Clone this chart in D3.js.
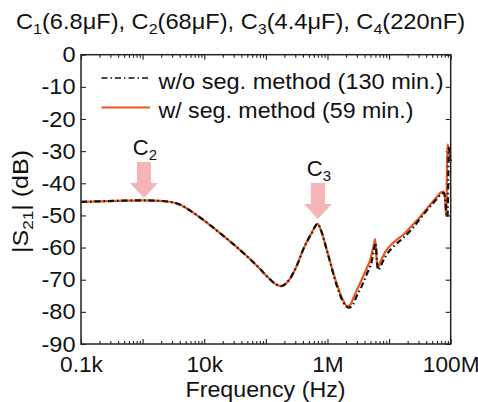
<!DOCTYPE html>
<html>
<head>
<meta charset="utf-8">
<script src="https://cdn.jsdelivr.net/npm/d3@7"></script>
<style>
  html, body { margin: 0; padding: 0; background: #fff; }
  svg { display: block; font-family: "Liberation Sans", Arial, Helvetica, sans-serif; }
</style>
</head>
<body>
<svg id="chart" width="478" height="402"></svg>
<script>
// ---------------- data ----------------
const segFreq = [100, 200, 500, 1e3, 2e3, 3e3, 4e3, 6e3, 1e4, 1.4e4, 2e4, 3e4, 5e4, 8e4, 1.1e5, 1.4e5, 1.6e5, 1.75e5, 1.9e5, 2.5e5, 3.2e5, 4.06e5, 5.5e5, 6.95e5, 7.8e5, 1e6, 1.4e6, 1.8e6, 2.1e6, 2.3e6, 2.8e6, 3.4e6, 4.2e6, 4.95e6, 5.6e6, 5.95e6, 6.3e6, 6.5e6, 7.2e6, 8.7e6, 1.2e7, 1.7e7, 2.4e7, 3.2e7, 4.5e7, 6e7, 7e7, 7.6e7, 8e7, 8.4e7, 8.6e7, 8.8e7, 9.1e7, 9.5e7, 1e8];
const segDb   = [-45.8, -45.6, -45.4, -45.3, -45.5, -45.9, -46.6, -48.6, -51.6, -53.8, -56.2, -59, -62.8, -66.6, -69.4, -71.2, -71.8, -72, -71.8, -69.5, -65.5, -60.5, -55.6, -52.6, -54.5, -61.5, -71, -76.5, -78.3, -78, -74.5, -71, -67, -63.8, -59.5, -57.4, -64, -66.2, -64.5, -61.3, -58.3, -56, -53, -50.4, -47, -44.2, -42.8, -42.6, -43.8, -50, -45, -28, -28.5, -31, -33];

const noSegFreq = [100, 200, 500, 1e3, 2e3, 3e3, 4e3, 6e3, 1e4, 1.4e4, 2e4, 3e4, 5e4, 8e4, 1.1e5, 1.4e5, 1.6e5, 1.75e5, 1.9e5, 2.5e5, 3.2e5, 4.06e5, 5.5e5, 6.95e5, 7.8e5, 1e6, 1.4e6, 1.8e6, 2.2e6, 2.5e6, 3e6, 3.6e6, 4.4e6, 5.2e6, 5.8e6, 6.05e6, 6.4e6, 6.7e6, 7.4e6, 8.7e6, 1.2e7, 1.7e7, 2.4e7, 3.2e7, 4.5e7, 6e7, 7e7, 7.7e7, 8.2e7, 8.6e7, 8.9e7, 9.1e7, 9.3e7, 9.6e7, 1e8];
const noSegDb   = [-45.8, -45.6, -45.4, -45.3, -45.5, -45.9, -46.6, -48.6, -51.6, -53.8, -56.2, -59, -62.8, -66.6, -69.4, -71.2, -71.8, -72, -71.8, -69.5, -65.5, -60.5, -55.6, -52.6, -54.5, -61.5, -71.5, -77, -78.7, -78.2, -75, -72, -68, -64.5, -59.8, -58.5, -65, -67, -65.5, -62.8, -59.5, -57, -54, -51, -47.5, -44.8, -43.4, -43, -45, -50.5, -50, -40, -29, -30, -33];

const xMajorTicks = [1e2, 1e3, 1e4, 1e5, 1e6, 1e7, 1e8];
const xLabelTicks = [1e2, 1e4, 1e6, 1e8];
const xTickLabels = ["0.1k", "10k", "1M", "100M"];
const yTicks = [0, -10, -20, -30, -40, -50, -60, -70, -80, -90];
const seriesNames = ["w/o seg. method (130 min.)", "w/ seg. method (59 min.)"];
const arrowFreqs = [1.05e3, 7.0e5];      // C2, C3 marker positions
const arrowLabels = ["2", "3"];          // subscripts of C labels
const arrowTopDb = [-33.4, -39.9];

// ---------------- layout ----------------
const svg = d3.select("#chart");
const L = 81, R = 450.7, T = 54.7, B = 344;
const x = d3.scaleLog().domain([1e2, 1e8]).range([L, R]);
const y = d3.scaleLinear().domain([-90, 0]).range([B, T]);
const ORANGE = "#e8571e", PINK = "#f5b5b8", AX = "#222";
const FS = 22, SUB = 15;

function stretch(sel, k) {
  sel.each(function () {
    const w = this.getComputedTextLength();
    d3.select(this).attr("textLength", w * k).attr("lengthAdjust", "spacingAndGlyphs");
  });
}

const xMinor = [];
for (let d = 2; d <= 8; d++) for (let m = 2; m <= 9; m++) { const v = m * Math.pow(10, d); if (v < 1e8) xMinor.push(v); }

// axes
const gxl = svg.append("g").attr("transform", `translate(0,${B})`)
  .call(d3.axisBottom(x).tickValues(xLabelTicks).tickSize(0).tickPadding(12.5)
    .tickFormat((d, i) => xTickLabels[i]));
const gx = svg.append("g").attr("transform", `translate(0,${B})`)
  .call(d3.axisBottom(x).tickValues(xMajorTicks).tickSize(-5).tickFormat(""));
const gxm = svg.append("g").attr("transform", `translate(0,${B})`)
  .call(d3.axisBottom(x).tickValues(xMinor).tickSize(-3).tickFormat(""));
const gxt = svg.append("g").attr("transform", `translate(0,${T})`)
  .call(d3.axisTop(x).tickValues(xMajorTicks).tickSize(-5).tickFormat(""));
const gxtm = svg.append("g").attr("transform", `translate(0,${T})`)
  .call(d3.axisTop(x).tickValues(xMinor).tickSize(-3).tickFormat(""));
const gy = svg.append("g").attr("transform", `translate(${L},0)`)
  .call(d3.axisLeft(y).tickValues(yTicks).tickSize(-5).tickPadding(5.5).tickFormat(d => String(d)));
const gyr = svg.append("g").attr("transform", `translate(${R},0)`)
  .call(d3.axisRight(y).tickValues(yTicks).tickSize(-5).tickFormat(""));

[gxl, gx, gxm, gxt, gxtm, gy, gyr].forEach(g => {
  g.select(".domain").remove();
  g.selectAll(".tick line").attr("stroke", AX).attr("stroke-width", 1.1);
  g.selectAll("text").attr("font-size", FS).attr("fill", "#111")
    .attr("font-family", "Liberation Sans, Arial, sans-serif");
});
[gx, gxm, gxt, gxtm, gyr].forEach(g => g.selectAll(".tick text").remove());
gxl.selectAll(".tick line").remove();
stretch(gxl.selectAll(".tick text"), 1.03);
stretch(gy.selectAll(".tick text"), 1.07);

// curves
const line = d3.line().x(d => x(d[0])).y(d => y(d[1])).curve(d3.curveMonotoneX);
const segData = segFreq.map((f, i) => [f, segDb[i]]);
const noSegData = noSegFreq.map((f, i) => [f, noSegDb[i]]);

svg.append("path").datum(segData).attr("d", line)
  .attr("fill", "none").attr("stroke", ORANGE).attr("stroke-width", 2.2);
svg.append("path").datum(noSegData).attr("d", line)
  .attr("fill", "none").attr("stroke", "#111").attr("stroke-width", 2.2)
  .attr("stroke-dasharray", "6,3,1.5,3");

// frame
svg.append("rect").attr("x", L).attr("y", T).attr("width", R - L).attr("height", B - T)
  .attr("fill", "none").attr("stroke", AX).attr("stroke-width", 1.5);

// arrows
arrowFreqs.forEach((f, i) => {
  const cx = x(f), top = y(arrowTopDb[i]);
  const sw = 7, hw = 14, len = 36, headLen = 15;
  const pts = [[cx - sw, top], [cx + sw, top], [cx + sw, top + len - headLen], [cx + hw, top + len - headLen],
               [cx, top + len], [cx - hw, top + len - headLen], [cx - sw, top + len - headLen]];
  svg.append("polygon").attr("points", pts.map(p => p.join(",")).join(" ")).attr("fill", PINK);
  const t = svg.append("text").attr("x", cx + 1).attr("y", top - 7).attr("text-anchor", "middle")
    .attr("font-size", FS).attr("fill", "#111");
  t.append("tspan").text("C");
  t.append("tspan").attr("font-size", SUB).attr("dy", 5).text(arrowLabels[i]);
});

// legend
const leg = svg.append("g");
const legY = [78, 107.5];
const legW = [285, 255];
seriesNames.forEach((name, i) => {
  const ln = leg.append("line").attr("x1", 101.5).attr("x2", 150).attr("y1", legY[i]).attr("y2", legY[i])
    .attr("stroke-width", i === 0 ? 1.6 : 1.8);
  if (i === 0) ln.attr("stroke", "#111").attr("stroke-dasharray", "6,3,1.5,3");
  else ln.attr("stroke", ORANGE);
  leg.append("text").attr("x", 158.5).attr("y", legY[i] + 10.5).attr("font-size", FS).attr("fill", "#111")
    .attr("textLength", legW[i]).attr("lengthAdjust", "spacingAndGlyphs").text(name);
});

// title
const title = svg.append("text").attr("x", 240.5).attr("y", 29).attr("text-anchor", "middle")
  .attr("font-size", FS).attr("fill", "#111");
const parts = [["C", "1", "(6.8μF), "], ["C", "2", "(68μF), "], ["C", "3", "(4.4μF), "], ["C", "4", "(220nF)"]];
parts.forEach(p => {
  title.append("tspan").attr("dy", 0).text(p[0]);
  title.append("tspan").attr("font-size", SUB).attr("dy", 5).text(p[1]);
  title.append("tspan").attr("dy", -5).text(p[2]);
});
title.attr("textLength", 449).attr("lengthAdjust", "spacingAndGlyphs");

// axis titles
svg.append("text").attr("x", 265.5).attr("y", 396.5).attr("text-anchor", "middle")
  .attr("font-size", FS).attr("fill", "#111").attr("textLength", 160).attr("lengthAdjust", "spacingAndGlyphs")
  .text("Frequency (Hz)");
const yt = svg.append("text").attr("transform", "translate(28,201.5) rotate(-90)").attr("text-anchor", "middle")
  .attr("font-size", FS).attr("fill", "#111");
yt.append("tspan").text("|S");
yt.append("tspan").attr("font-size", SUB).attr("dy", 5).text("21");
yt.append("tspan").attr("dy", -5).text("| (dB)");
yt.attr("textLength", 103).attr("lengthAdjust", "spacingAndGlyphs");
</script>
</body>
</html>
